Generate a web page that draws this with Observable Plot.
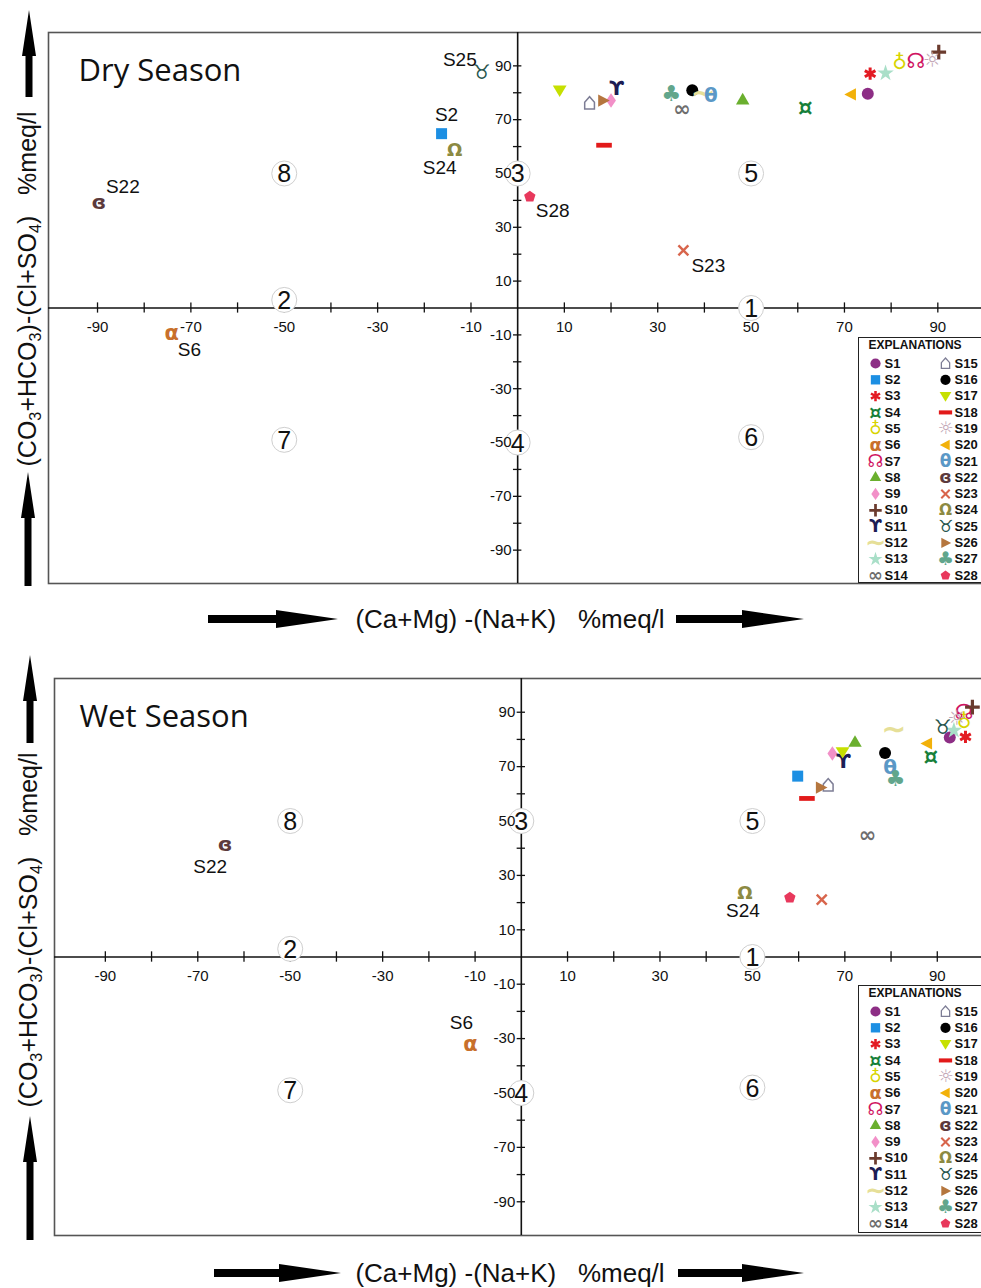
<!DOCTYPE html>
<html>
<head>
<meta charset="utf-8">
<script src="https://cdn.jsdelivr.net/npm/d3@7"></script>
<script src="https://cdn.jsdelivr.net/npm/@observablehq/plot@0.6"></script>
<style>
html, body { margin: 0; padding: 0; background: #fff; overflow: hidden; }
#page { position: relative; width: 981px; height: 1288px; overflow: hidden; font-family: "Liberation Sans", Arial, sans-serif; color: #111; }
.panel { position: absolute; left: 0; }
.panel svg { max-width: none; display: block; }
.ytitle { position: absolute; white-space: nowrap; font-size: 25px; transform: translate(-50%, -50%) rotate(-90deg); }
.xtitle { position: absolute; white-space: nowrap; font-size: 26px; transform: translate(-50%, -50%); }
.ytitle sub, .xtitle sub { font-size: 0.65em; vertical-align: -0.25em; }
.legend { position: absolute; left: 858px; width: 140px; border: 1.5px solid #222; background: #fff; box-sizing: border-box; }
.legend svg { display: block; max-width: none; }
#deco { position: absolute; left: 0; top: 0; pointer-events: none; }
</style>
</head>
<body>
<div id="page"></div>
<script>
// ---------------- data ----------------
const samples = ["S1","S2","S3","S4","S5","S6","S7","S8","S9","S10","S11","S12","S13","S14",
                 "S15","S16","S17","S18","S19","S20","S21","S22","S23","S24","S25","S26","S27","S28"];

// Dry season: x = (Ca+Mg)-(Na+K), y = (CO3+HCO3)-(Cl+SO4), %meq/l
const dryX = [75.0, -16.3, 75.5, 61.6, 81.8, -74.1, 85.3, 48.2, 20.0, 90.2, 21.2, 39.7, 78.8, 35.2,
              15.4, 37.4, 9.0, 18.5, 88.8, 71.4, 41.4, -89.7, 35.5, -13.5, -7.7, 18.3, 32.9, 2.6];
const dryY = [79.6, 64.8, 87.1, 74.6, 91.4, -9.5, 91.7, 77.1, 77.1, 95.1, 81.5, 79.9, 87.3, 74.0,
              76.1, 80.9, 80.9, 60.5, 92.0, 79.4, 78.9, 39.2, 21.4, 58.5, 87.5, 77.1, 79.4, 41.4];

// Wet season
const wetX = [92.7, 59.8, 96.1, 88.6, 95.8, -11.0, 95.8, 72.2, 67.3, 97.6, 69.7, 80.6, 93.6, 74.9,
              66.4, 78.7, 69.5, 61.8, 94.2, 87.8, 79.8, -64.1, 65.0, 48.4, 91.2, 64.8, 81.0, 58.1];
const wetY = [80.7, 66.5, 80.9, 73.8, 86.4, -32.0, 90.0, 78.7, 74.8, 91.9, 71.7, 83.6, 83.3, 44.9,
              63.2, 75.0, 75.4, 58.3, 87.6, 78.5, 69.7, 41.2, 21.1, 23.6, 84.5, 62.3, 65.6, 21.8];

const tickValues = [-90,-80,-70,-60,-50,-40,-30,-20,-10,10,20,30,40,50,60,70,80,90];
const xTickLabels = [-90,-70,-50,-30,-10,10,30,50,70,90];
const yTickLabels = [90,70,50,30,10,-10,-30,-50,-70,-90];

const regionIds = [1,2,3,4,5,6,7,8];
const regionX   = [50,-50,0,0,50,50,-50,-50];
const regionY   = [0,3,50,-50,50,-48,-49,50];

const panelTitles = ["Dry Season", "Wet Season"];
const dryLabelled = ["S25","S2","S24","S22","S6","S28","S23"];
const wetLabelled = ["S22","S24","S6"];

// ---------------- styles ----------------
const sampleStyle = {
  S1:{c:"#8d2e85",k:"circle"},  S2:{c:"#1c8fe3",k:"square"},  S3:{c:"#e31b23",k:"asterisk"},
  S4:{c:"#17803a",k:"¤"},       S5:{c:"#d8d400",k:"♁"},       S6:{c:"#c8702c",k:"α"},
  S7:{c:"#d01462",k:"☊"},       S8:{c:"#6aaf2e",k:"triangle"},S9:{c:"#f290c8",k:"diamond"},
  S10:{c:"#6b3b2e",k:"plus"},   S11:{c:"#1d1d55",k:"ϒ"},      S12:{c:"#e6df98",k:"∼"},
  S13:{c:"#a9dfc8",k:"star"},   S14:{c:"#6e6e6e",k:"∞"},      S15:{c:"#7d7d95",k:"house"},
  S16:{c:"#000000",k:"circle"}, S17:{c:"#c6e000",k:"tri-down"},S18:{c:"#e21a1a",k:"bar"},
  S19:{c:"#c2a6b5",k:"☼"},      S20:{c:"#f2b10a",k:"tri-left"},S21:{c:"#5b98c6",k:"θ"},
  S22:{c:"#5c3a3c",k:"ɞ"},      S23:{c:"#d8654c",k:"times"},  S24:{c:"#8c8a42",k:"Ω"},
  S25:{c:"#27564e",k:"♉"},      S26:{c:"#b5763e",k:"tri-right"},S27:{c:"#62a68c",k:"♣"},
  S28:{c:"#e8385c",k:"pentagon"}
};

function poly(c, pts){ c.moveTo(pts[0][0], pts[0][1]); for (let i = 1; i < pts.length; i++) c.lineTo(pts[i][0], pts[i][1]); c.closePath(); }
const customSymbols = {
  "tri-down": {draw(c, s){ const r = Math.sqrt(s/Math.PI); poly(c, [[-1.15*r,-0.8*r],[1.15*r,-0.8*r],[0,1.1*r]]); }},
  "tri-left": {draw(c, s){ const r = Math.sqrt(s/Math.PI); poly(c, [[0.85*r,-1.05*r],[0.85*r,1.05*r],[-1.15*r,0]]); }},
  "tri-right":{draw(c, s){ const r = Math.sqrt(s/Math.PI); poly(c, [[-0.85*r,-1.05*r],[-0.85*r,1.05*r],[1.15*r,0]]); }},
  "pentagon": {draw(c, s){ const r = Math.sqrt(s/Math.PI)*1.15; poly(c, [0,1,2,3,4].map(k => { const a = (-90 + 72*k)*Math.PI/180; return [r*Math.cos(a), r*Math.sin(a)]; })); }},
  "bar":      {draw(c, s){ const r = Math.sqrt(s/Math.PI); poly(c, [[-1.3*r,-0.4*r],[1.3*r,-0.4*r],[1.3*r,0.4*r],[-1.3*r,0.4*r]]); }},
  "house":    {draw(c, s){ const r = Math.sqrt(s/Math.PI); poly(c, [[-0.75*r,0.9*r],[-0.75*r,-0.15*r],[0,-r],[0.75*r,-0.15*r],[0.75*r,0.9*r]]); }},
  "diam":     {draw(c, s){ const r = Math.sqrt(s/Math.PI); poly(c, [[0,-1.25*r],[0.85*r,0],[0,1.25*r],[-0.85*r,0]]); }}
};
const builtin = ["circle","square","asterisk","triangle","plus","star","times"];
const symR = {circle:6, square:6.2, asterisk:5.8, triangle:5, diamond:5.8, plus:4.8, star:5.2, times:4.6,
              "tri-down":6, "tri-left":5.8, "tri-right":5.8, pentagon:5.2, bar:6, house:6.5};
const stroked = {asterisk:3, plus:3.2, times:2.4, house:1.5};
const glyphSize = {"∼":30, "∞":21, "♣":22, "¤":23, "♁":20, "α":21, "☊":21, "ϒ":20, "☼":21, "θ":20, "ɞ":20, "Ω":18, "♉":20};

function symbolMarks(data, x, y, scale) {
  const kinds = Array.from(new Set(data.map(d => sampleStyle[d.s].k)));
  const col = d => sampleStyle[d.s].c;
  return kinds.map(kind => {
    const sub = data.filter(d => sampleStyle[d.s].k === kind);
    const custom = customSymbols[kind === "diamond" ? "diam" : kind];
    if (builtin.includes(kind) || custom) {
      const sym = custom || kind;
      const sw = stroked[kind];
      return Plot.dot(sub, {x, y, symbol: sym, r: symR[kind]*scale,
        fill: sw ? "none" : col, stroke: sw ? col : "none", strokeWidth: sw ? sw*Math.max(scale,0.85) : 0});
    }
    return Plot.text(sub, {x, y, text: () => kind, fill: col, fontSize: (glyphSize[kind] || 17)*scale,
      fontWeight: "bold", fontFamily: "'DejaVu Sans', sans-serif"});
  });
}

// label placements (style): [anchor, dx, dy]
const labelPlace = {
  dry: {S25:["end",-5,-13], S2:["middle",5,-19], S24:["end",2,17], S22:["start",7,-16],
        S6:["start",6,16], S28:["start",6,14], S23:["start",8,15]},
  wet: {S22:["end",2,22], S24:["middle",-2,18], S6:["middle",-9,-21]}
};

function panel(cfg) {
  const pts = samples.map((s, i) => ({s, x: cfg.xs[i], y: cfg.ys[i]}));
  const marks = [
    Plot.frame({stroke: "#555", strokeWidth: 1.6}),
    Plot.ruleY([0], {stroke: "#111", strokeWidth: 1.6}),
    Plot.ruleX([0], {stroke: "#111", strokeWidth: 1.6}),
    Plot.ruleX(tickValues, {x: d => d, y1: -1.9, y2: 1.9, stroke: "#111", strokeWidth: 1.3}),
    Plot.ruleY(tickValues, {y: d => d, x1: -0.9, x2: 0.9, stroke: "#111", strokeWidth: 1.3}),
    Plot.dot(regionIds, {x: (d, i) => regionX[i], y: (d, i) => regionY[i], r: 12.5, fill: "white", stroke: "#cfcfcf", strokeWidth: 1}),
    Plot.text(xTickLabels, {x: d => d, y: 0, text: d => String(d), dy: 19, fontSize: 15}),
    Plot.text(yTickLabels, {x: 0, y: d => d, text: d => String(d), dx: -6, textAnchor: "end", fontSize: 15}),
    Plot.text(regionIds, {x: (d, i) => regionX[i], y: (d, i) => regionY[i], text: d => String(d), fontSize: 25, dy: 1}),
    ...symbolMarks(pts, "x", "y", 1),
    ...cfg.labelled.map(s => {
      const [anchor, dx, dy] = cfg.place[s];
      return Plot.text(pts.filter(d => d.s === s), {x: "x", y: "y", text: "s", textAnchor: anchor, dx, dy, fontSize: 19});
    }),
    Plot.text([cfg.title], {frameAnchor: "top-left", dx: cfg.titleDx, dy: cfg.titleDy, fontSize: 31,
      fontFamily: "'Open Sans', sans-serif", lineAnchor: "top"})
  ];
  return Plot.plot({
    width: 981, height: 600,
    marginLeft: cfg.marginLeft, marginRight: cfg.marginRight, marginTop: 32, marginBottom: cfg.marginBottom,
    x: {domain: cfg.xDomain, axis: null},
    y: {domain: [-102.4, 102.4], axis: null},
    color: {type: "identity"},
    style: {fontFamily: "'Liberation Sans', Arial, sans-serif", color: "#111", background: "transparent"},
    marks
  });
}

function legend() {
  const entries = samples.map((s, i) => ({s, col: Math.floor(i / 14), row: i % 14}));
  return Plot.plot({
    width: 140, height: 246, margin: 0,
    x: {domain: [0, 1], range: [16, 86], axis: null},
    y: {domain: [0, 13], range: [25, 237], axis: null},
    color: {type: "identity"},
    style: {fontFamily: "'Liberation Sans', Arial, sans-serif", color: "#111", background: "transparent"},
    marks: [
      ...symbolMarks(entries, "col", "row", 0.85),
      Plot.text(entries, {x: "col", y: "row", text: "s", dx: 9, textAnchor: "start", fontWeight: "bold", fontSize: 13}),
      Plot.text(["EXPLANATIONS"], {frameAnchor: "top-left", dx: 9, dy: 2, fontWeight: "bold", fontSize: 12, lineAnchor: "top"})
    ]
  });
}

// ---------------- layout ----------------
const page = d3.select("#page");

function addPanel(top, chart) {
  page.append("div").attr("class", "panel").style("top", top + "px").node().appendChild(chart);
}
addPanel(0, panel({xs: dryX, ys: dryY, labelled: dryLabelled, place: labelPlace.dry, title: panelTitles[0],
  xDomain: [-100.5, 100], marginLeft: 48, marginRight: -3, marginBottom: 17, titleDx: 30, titleDy: 26}));
addPanel(646, panel({xs: wetX, ys: wetY, labelled: wetLabelled, place: labelPlace.wet, title: panelTitles[1],
  xDomain: [-101, 100], marginLeft: 54, marginRight: -2, marginBottom: 11, titleDx: 25, titleDy: 26}));

page.append("div").attr("class", "legend").style("top", "337px").style("height", "246px").node().appendChild(legend());
page.append("div").attr("class", "legend").style("top", "985px").style("height", "248px").node().appendChild(legend());

const yTitle = "(CO<sub>3</sub>+HCO<sub>3</sub>)-(Cl+SO<sub>4</sub>)&nbsp;&nbsp;&nbsp;%meq/l";
const xTitle = "(Ca+Mg) -(Na+K)&nbsp;&nbsp;&nbsp;%meq/l";
page.append("div").attr("class", "ytitle").style("left", "29px").style("top", "289px").html(yTitle);
page.append("div").attr("class", "ytitle").style("left", "30px").style("top", "930px").html(yTitle);
page.append("div").attr("class", "xtitle").style("left", "510px").style("top", "619px").html(xTitle);
page.append("div").attr("class", "xtitle").style("left", "510px").style("top", "1273px").html(xTitle);

// decorative arrows
const deco = page.append("svg").attr("id", "deco").attr("width", 981).attr("height", 1288);
function arrow(x1, y1, x2, y2, shaft, headLen, headHalf) {
  const L = Math.hypot(x2 - x1, y2 - y1), ux = (x2 - x1) / L, uy = (y2 - y1) / L, px = -uy, py = ux;
  const bx = x2 - ux * headLen, by = y2 - uy * headLen;
  const pts = [[x1 + px*shaft, y1 + py*shaft], [bx + px*shaft, by + py*shaft], [bx + px*headHalf, by + py*headHalf],
               [x2, y2], [bx - px*headHalf, by - py*headHalf], [bx - px*shaft, by - py*shaft], [x1 - px*shaft, y1 - py*shaft]];
  deco.append("polygon").attr("points", pts.map(p => p.join(",")).join(" ")).attr("fill", "#000");
}
arrow(29, 97, 29, 10, 3.5, 46, 7);
arrow(28, 586, 28, 472, 3.5, 46, 7);
arrow(208, 619, 338, 619, 4, 62, 9);
arrow(676, 619, 804, 619, 4, 62, 9);
arrow(30, 743, 30, 655, 3.5, 46, 7);
arrow(30, 1240, 30, 1116, 3.5, 46, 7);
arrow(214, 1273, 341, 1273, 4, 62, 9);
arrow(678, 1273, 804, 1273, 4, 62, 9);
</script>
</body>
</html>
